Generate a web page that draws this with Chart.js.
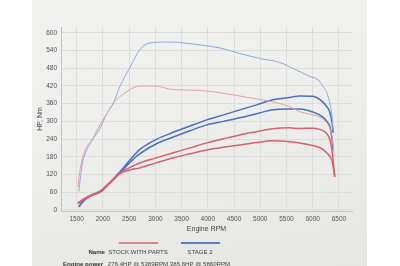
<!DOCTYPE html>
<html>
<head>
<meta charset="utf-8">
<script src="https://cdn.jsdelivr.net/npm/chart.js@4.4.0/dist/chart.umd.min.js"></script>
<style>
  html, body { margin: 0; padding: 0; background: #ffffff; }
  body { width: 400px; height: 266px; position: relative; overflow: hidden; font-family: "Liberation Sans", Arial, sans-serif; }
  .paper {
    position: absolute; left: 32px; top: 0; width: 335px; height: 266px;
    background: linear-gradient(170deg, #f2f2f1 0%, #eeeeec 45%, #e6e6e3 100%);
  }
  #chart { position: absolute; left: 0; top: 0; }
  .comment { position: absolute; left: 50px; top: -6px; font-size: 7px; font-weight: bold; color: #333; }
  .swatch { position: absolute; height: 2px; top: 242px; width: 39px; }
  .txt { position: absolute; font-size: 6.1px; color: #444; white-space: nowrap; }
  .lbl { font-weight: bold; color: #333; text-align: right; width: 60px; }
  .col { text-align: center; width: 80px; }
</style>
</head>
<body>
<div class="paper"></div>
<div class="comment">Comment</div>
<canvas id="chart" width="400" height="266"></canvas>

<div class="swatch" style="left:119px; background:#e0848d;"></div>
<div class="swatch" style="left:181px; background:#5b7fc6;"></div>
<div class="txt lbl" style="left:45px; top:248px;">Name</div>
<div class="txt col" style="left:98px; top:248px;">STOCK WITH PARTS</div>
<div class="txt col" style="left:160px; top:248px;">STAGE 2</div>
<div class="txt lbl" style="left:43px; top:260px;">Engine power</div>
<div class="txt col" style="left:98px; top:260px;">276.4HP @ 5389RPM</div>
<div class="txt col" style="left:160px; top:260px;">385.6HP @ 5860RPM</div>

<script>
// ===== data read from the dyno sheet =====
const xTicks = [1500, 2000, 2500, 3000, 3500, 4000, 4500, 5000, 5500, 6000, 6500];
const yTicks = [0, 60, 120, 180, 240, 300, 360, 420, 480, 540, 600];

// stock with parts
const stockPowerRpm = [1520, 1600, 1690, 1800, 1940, 2130, 2320, 2510, 2700, 3030, 3330, 3660, 3980, 4300, 4610, 4930, 5240, 5560, 5750, 6000, 6170, 6270, 6330, 6380, 6420];
const stockEngine = [24, 33, 43, 52, 63, 93, 125, 143, 159, 177, 193, 210, 227, 241, 254, 265, 275, 278, 276, 277, 271, 258, 237, 185, 112];
const stockWheel = [20, 30, 40, 50, 61, 90, 122, 135, 142, 160, 176, 190, 203, 212, 220, 228, 234, 231, 227, 218, 208, 193, 180, 160, 112];
const stockTorqueRpm = [1520, 1560, 1600, 1690, 1790, 1880, 2070, 2200, 2320, 2510, 2700, 2990, 3330, 3850, 4230, 4800, 5130, 5560, 5750, 6000, 6140, 6270, 6330, 6380, 6410];
const stockTorque = [78, 130, 169, 214, 237, 268, 325, 362, 383, 407, 420, 420, 408, 405, 397, 380, 370, 350, 333, 322, 314, 295, 275, 235, 180];

// stage 2
const stage2PowerRpm = [1540, 1600, 1690, 1800, 1940, 2130, 2320, 2510, 2700, 3030, 3330, 3660, 3980, 4300, 4610, 4930, 5240, 5560, 5750, 6000, 6190, 6290, 6330, 6370, 6390];
const stage2Engine = [10, 25, 41, 52, 61, 92, 128, 168, 204, 240, 262, 284, 305, 322, 339, 356, 373, 381, 386, 385, 366, 345, 329, 295, 261];
const stage2Wheel = [10, 24, 39, 50, 59, 90, 124, 160, 190, 225, 246, 268, 288, 300, 312, 326, 339, 342, 342, 332, 315, 295, 281, 240, 203];
const stage2TorqueRpm = [1540, 1570, 1610, 1690, 1790, 1940, 2070, 2200, 2320, 2510, 2700, 2890, 3280, 3850, 4230, 4610, 5000, 5370, 5620, 5950, 6100, 6190, 6270, 6330, 6370, 6390];
const stage2Torque = [61, 110, 159, 203, 234, 275, 325, 362, 417, 481, 542, 566, 569, 559, 549, 530, 513, 500, 480, 452, 441, 420, 397, 360, 315, 270];

const toPoints = (xs, ys) => xs.map((x, i) => ({ x: x, y: ys[i] }));

function line(data, color, width) {
  return {
    data: data,
    borderColor: color,
    borderWidth: width,
    pointRadius: 0,
    fill: false,
    cubicInterpolationMode: "monotone",
  };
}

const ctx = document.getElementById("chart");
new Chart(ctx, {
  type: "line",
  data: {
    datasets: [
      line(toPoints(stockTorqueRpm, stockTorque), "#e6a0a6", 1),
      line(toPoints(stage2TorqueRpm, stage2Torque), "#8eaadb", 1),
      line(toPoints(stockPowerRpm, stockWheel), "#d9606f", 1.5),
      line(toPoints(stockPowerRpm, stockEngine), "#d9606f", 1.5),
      line(toPoints(stage2PowerRpm, stage2Wheel), "#4a6ec0", 1.5),
      line(toPoints(stage2PowerRpm, stage2Engine), "#4a6ec0", 1.5),
    ],
  },
  options: {
    responsive: false,
    animation: false,
    layout: { padding: { left: 32, right: 48, top: 27, bottom: 29 } },
    plugins: { legend: { display: false }, tooltip: { enabled: false } },
    scales: {
      x: {
        type: "linear",
        min: 1200,
        max: 6750,
        afterBuildTicks: (s) => { s.ticks = xTicks.map((v) => ({ value: v })); },
        afterFit: (s) => { s.height = 26; },
        grid: { color: "#dddddb", drawTicks: false },
        border: { color: "#c4c4c2" },
        ticks: { padding: 4, maxRotation: 0, color: "#555", font: { size: 6.5, family: "Liberation Sans" }, callback: (v) => String(v) },
        title: { display: true, text: "Engine RPM", color: "#444", font: { size: 7, family: "Liberation Sans" }, padding: { top: 0, bottom: 4 } },
      },
      y: {
        min: -4,
        max: 620,
        afterBuildTicks: (s) => { s.ticks = yTicks.map((v) => ({ value: v })); },
        afterFit: (s) => { s.width = 29; },
        grid: { color: "#dddddb", drawTicks: false },
        border: { color: "#c4c4c2" },
        ticks: { padding: 4, color: "#555", font: { size: 6.5, family: "Liberation Sans" }, callback: (v) => String(v) },
        title: { display: true, text: "HP, Nm", color: "#444", font: { size: 7, family: "Liberation Sans" }, padding: { top: 4, bottom: 0 } },
      },
    },
  },
});
</script>
</body>
</html>
